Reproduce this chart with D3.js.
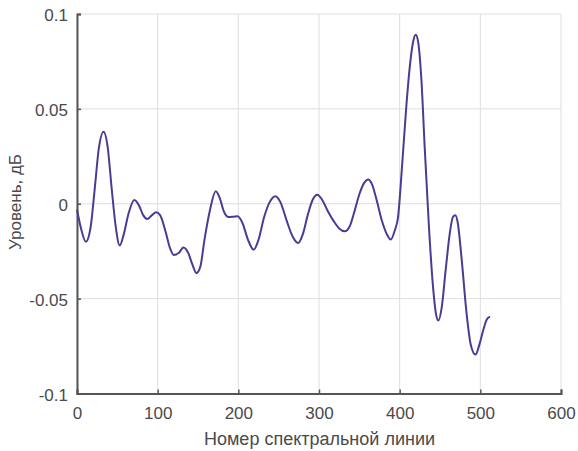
<!DOCTYPE html>
<html><head><meta charset="utf-8">
<script src="https://cdn.jsdelivr.net/npm/d3@7"></script>
<style>body{margin:0;background:#fff}svg{display:block}</style>
</head><body>
<svg id="c" width="578" height="451"></svg>
<script>
const lineNo = [0,5,11,17,22,27,33,38,43,48,53,58,64,71,77,82,87,93,98,103,110,115,120,126,132,138,143,148,153,158,165,172,177,182,188,194,199,205,212,219,225,232,239,246,252,260,267,274,280,286,292,298,304,311,318,325,332,338,344,350,356,361,366,372,378,384,389,394,398,403,408,413,417,420,423,427,431,436,441,445,448,452,457,462,466,469,472,477,483,488,494,499,504,508,512];
const level = [-0.003,-0.013,-0.020,-0.012,0.008,0.029,0.038,0.030,0.008,-0.012,-0.022,-0.016,-0.005,0.002,-0.001,-0.006,-0.008,-0.006,-0.0045,-0.006,-0.015,-0.023,-0.027,-0.026,-0.023,-0.026,-0.032,-0.0365,-0.033,-0.019,-0.003,0.0066,0.003,-0.004,-0.007,-0.0068,-0.0066,-0.010,-0.019,-0.0242,-0.019,-0.007,0.001,0.004,0.001,-0.009,-0.017,-0.0207,-0.016,-0.006,0.002,0.0048,0.002,-0.004,-0.009,-0.013,-0.0145,-0.012,-0.004,0.005,0.011,0.0128,0.010,0.001,-0.009,-0.016,-0.0189,-0.014,-0.007,0.020,0.050,0.074,0.086,0.089,0.085,0.065,0.030,-0.010,-0.042,-0.058,-0.0615,-0.055,-0.035,-0.016,-0.007,-0.006,-0.010,-0.030,-0.058,-0.074,-0.0795,-0.074,-0.066,-0.061,-0.0595];
const xTicks = [0,100,200,300,400,500,600];
const yTicks = [-0.1,-0.05,0,0.05,0.1];
const yTickLabels = ["-0.1","-0.05","0","0.05","0.1"];
const xTitle = "Номер спектральной линии";
const yTitle = "Уровень, дБ";

const svg = d3.select("#c");
const m = {l:77, r:561, t:14, b:393.5};
const x = d3.scaleLinear().domain([0,600]).range([m.l, m.r]);
const y = d3.scaleLinear().domain([-0.1,0.1]).range([m.b, m.t]);
const font = "Arial, 'Liberation Sans', sans-serif";
const textCol = "#4a4a4a";

// grid
svg.append("g").selectAll("line").data(xTicks).join("line")
  .attr("x1", d=>x(d)).attr("x2", d=>x(d)).attr("y1", m.t).attr("y2", m.b)
  .attr("stroke", "#e0dcdc").attr("stroke-width", 1);
svg.append("g").selectAll("line").data(yTicks).join("line")
  .attr("y1", d=>y(d)).attr("y2", d=>y(d)).attr("x1", m.l).attr("x2", m.r)
  .attr("stroke", "#e0dcdc").attr("stroke-width", 1);

// axes
const xAxis = d3.axisBottom(x).tickValues(xTicks).tickSize(-4).tickPadding(13).tickFormat(d3.format("d"));
const gx = svg.append("g").attr("transform", `translate(0,${m.b})`).call(xAxis);
const yAxis = d3.axisLeft(y).tickValues(yTicks).tickSize(-4).tickPadding(9).tickFormat((d,i)=>yTickLabels[i]);
const gy = svg.append("g").attr("transform", `translate(${m.l},0)`).call(yAxis);
[gx, gy].forEach(g => {
  g.select(".domain").attr("stroke", "#555").attr("stroke-width", 2);
  g.selectAll(".tick line").attr("stroke", "#555").attr("stroke-width", 1.5);
  g.selectAll("text").attr("fill", textCol).style("font-family", font).style("font-size", "17px");
});
gy.selectAll("text").attr("dy", "0.4em");

// line
const line = d3.line().x((d,i)=>x(lineNo[i])).y(d=>y(d)).curve(d3.curveMonotoneX);
svg.append("path").datum(level).attr("d", line)
  .attr("fill", "none").attr("stroke", "#483d92").attr("stroke-width", 2);

// titles
svg.append("text").attr("x", 319.5).attr("y", 445).attr("text-anchor", "middle")
  .style("font-family", font).style("font-size", "18px").attr("fill", textCol).text(xTitle);
svg.append("text").attr("transform", "translate(21,202) rotate(-90)").attr("text-anchor", "middle")
  .style("font-family", font).style("font-size", "17px").attr("fill", textCol).text(yTitle);
</script>
</body></html>
